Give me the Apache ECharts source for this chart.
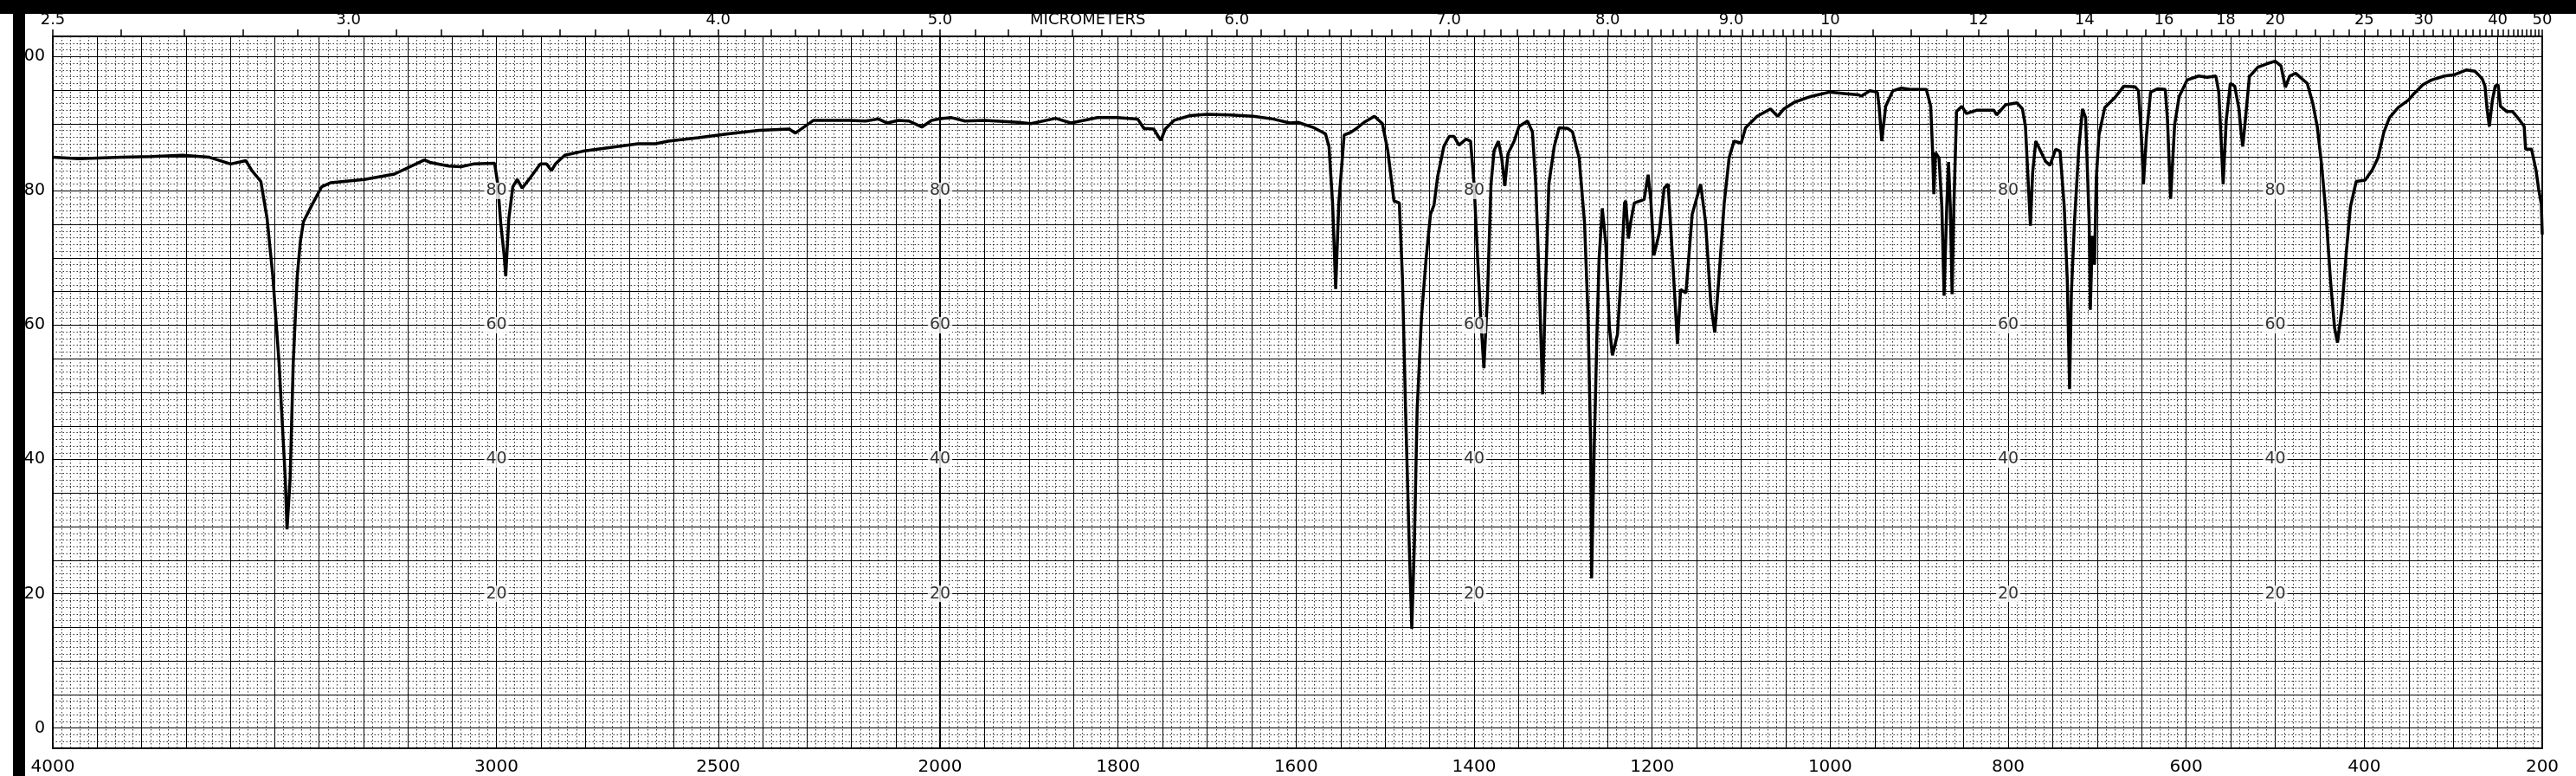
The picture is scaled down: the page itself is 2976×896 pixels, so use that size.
<!DOCTYPE html>
<html><head><meta charset="utf-8">
<script src="https://cdn.jsdelivr.net/npm/echarts@6/dist/echarts.min.js"></script>
<style>html,body{margin:0;padding:0;background:#fff}#c{width:2976px;height:896px}</style>
</head><body><div id="c"></div>
<script>
// ---- data (wavenumber cm-1, % transmittance) ----
const wavenumber = [4000,3941,3845,3777,3708,3647,3599,3565,3551,3531,3517,3504,3490,3476,3472,3465,3458,3449,3442,3435,3415,3394,3374,3298,3230,3162,3148,3107,3080,3052,3004,2997,2990,2983,2979,2972,2963,2953,2942,2922,2901,2887,2876,2867,2846,2805,2750,2681,2641,2613,2545,2477,2408,2340,2326,2285,2203,2168,2139,2119,2094,2070,2041,2019,1987,1972,1950,1912,1898,1870,1853,1823,1801,1778,1771,1760,1752,1747,1737,1719,1700,1674,1648,1626,1607,1598,1580,1567,1563,1559,1555.5,1552,1546,1538.6,1531,1523.6,1512,1503,1497,1490,1484,1480.5,1477,1473,1470,1467,1464,1459,1454,1449,1445,1441,1434,1428,1422.5,1417,1409,1404,1400,1396,1392.5,1389,1385,1381,1377.5,1372.7,1369,1365.5,1362,1355,1349.5,1340,1334.5,1330.7,1327,1323,1319.5,1316,1310,1304.5,1295,1289.5,1282,1276,1272,1269,1268,1265,1262,1259.6,1256,1252,1248,1244.6,1239,1235,1231,1229.6,1226.6,1224,1220,1209,1204.5,1201.5,1198,1192,1186.5,1182,1177,1171.5,1168,1162,1155,1145.5,1140,1134,1129.6,1125,1119,1113.5,1108,1100,1095,1082,1067,1059,1052,1040,1025.5,1020,1001,984.6,968,965,955.4,947,945,942,937.6,929.5,920,910,892,887,885,883.5,881.6,877.7,874.5,872,869,867,865,863,861,858,852,847,835.6,816,813,803,790,784,780.6,778,775,772.5,769,766,758,753,746.6,741.7,737,733.6,731,729,725.5,720.7,716.5,713,709,707.7,705.4,703,701,698,691.5,680,670,657.5,653.6,650.4,648,644.6,640,632,623.5,621,617.5,613,608,599,586,576.6,566.7,563.4,561,558.5,555,550.4,545.5,540.7,538.4,536.4,533,529,519.5,509.8,500,493.5,488.6,483.7,477,464,457.7,452.8,448,443,438,433.3,430,425,420,415.5,409,399,391,384.5,378,371.6,361.8,350.4,344,334,324.4,309.8,298.4,285.4,275.6,267.5,264.3,262,259.4,256,252.8,249.6,247,239.8,233.3,225.2,220.3,218.7,212,207,204,201,200];
const transmittance = [85.0,84.8,85.0,85.1,85.3,85.0,84.0,84.5,83.0,81.4,75.9,67.3,54.4,37.2,29.6,37.2,54.4,67.3,72.4,75.4,78.0,80.6,81.2,81.7,82.5,84.6,84.2,83.7,83.6,84.0,84.1,81.0,75.0,70.7,67.3,75.9,80.6,81.7,80.4,82.1,84.0,84.0,83.0,84.0,85.3,85.9,86.4,87.0,87.0,87.4,87.9,88.5,89.0,89.2,88.6,90.5,90.5,90.4,90.7,90.1,90.5,90.4,89.5,90.5,90.9,90.4,90.5,90.2,90.0,90.8,90.1,90.9,90.9,90.7,89.3,89.2,87.5,89.2,90.5,91.2,91.4,91.3,91.1,90.7,90.1,90.2,89.4,88.5,86.6,78.2,65.4,78.2,88.3,88.7,89.4,90.2,91.1,90.0,86.0,78.5,78.2,67.0,47.4,27.9,14.8,27.9,47.4,61.4,69.8,76.5,77.9,82.1,86.6,88.1,88.1,86.8,87.7,87.4,81.0,69.8,60.9,53.6,64.2,81.0,86.0,87.4,84.9,80.7,85.5,87.4,89.6,90.4,88.8,81.0,67.0,49.7,67.0,81.0,86.6,89.4,89.3,88.8,84.9,75.4,61.4,41.9,22.3,41.9,58.6,69.8,77.4,72.1,59.7,55.5,58.6,67.0,78.2,78.5,72.9,75.4,78.2,78.7,82.4,78.7,70.4,73.7,80.4,81.0,69.8,57.2,65.3,64.8,76.5,81.0,75.4,63.1,58.9,67.0,78.2,84.9,87.4,87.1,89.4,91.1,92.2,91.1,92.2,93.2,93.9,94.1,94.7,94.5,94.3,94.1,94.9,94.7,92.6,87.4,92.6,94.9,95.3,95.1,95.1,92.6,86.2,79.5,85.7,84.9,77.6,64.4,77.6,84.3,77.6,64.6,77.6,91.8,92.6,91.5,92.0,92.0,91.3,92.8,93.1,92.2,89.6,82.7,74.8,82.7,87.4,86.6,84.4,83.8,86.2,85.9,77.6,66.8,50.5,64.6,75.4,86.2,92.2,90.9,75.4,62.3,73.3,69.0,81.8,88.3,92.4,93.9,95.6,95.5,94.9,88.3,81.0,88.3,94.7,95.2,95.1,90.5,78.8,89.8,94.0,96.5,97.1,96.9,97.1,94.7,88.3,81.0,90.5,96.0,95.6,92.2,88.7,86.6,91.3,97.0,98.4,98.9,99.3,98.6,95.4,97.1,97.5,96.0,93.0,89.6,84.0,76.7,66.8,59.6,57.4,62.5,71.1,77.6,81.4,81.6,83.1,84.9,88.7,90.9,92.4,93.5,94.5,95.8,96.5,97.1,97.3,98.0,97.8,96.7,95.6,92.2,89.6,93.5,95.6,95.8,92.6,91.8,91.8,90.5,89.6,86.2,86.2,83.1,80.2,78.0,73.5];

// ---- axis labels ----
const bottomLabelsLeft = [4000, 3000, 2500];
const bottomLabelsRight = [2000, 1800, 1600, 1400, 1200, 1000, 800, 600, 400, 200];
const yLabels = [0, 20, 40, 60, 80, 100];
const micrometerLabels = ['2.5','3.0','4.0','5.0','6.0','7.0','8.0','9.0','10','12','14','16','18','20','25','30','40','50'];
const micrometerTitle = 'MICROMETERS';
const micrometerTitleWn = 1834;
const innerLabelWn = [3000, 2000, 1400, 800, 500];
const innerLabelT = [80, 60, 40, 20];

const FONT = 'DejaVu Sans';
const spectrum = wavenumber.map((w, i) => [w, transmittance[i]]);

// micrometer ticks on top scale
const umTicks = [];
for (let u = 25; u <= 100; u++) umTicks.push(u / 10);
for (let u = 105; u <= 200; u += 5) umTicks.push(u / 10);
for (let u = 21; u <= 50; u++) umTicks.push(u);
const umTickWn = umTicks.map(u => 10000 / u);
const umLabelWn = micrometerLabels.map(s => 10000 / parseFloat(s));

function umFormatter(v) {
  if (Math.abs(v - micrometerTitleWn) < 0.5) return micrometerTitle;
  for (let i = 0; i < micrometerLabels.length; i++) {
    if (Math.abs(umLabelWn[i] - v) < 0.01) return micrometerLabels[i];
  }
  return '';
}

const minorStyle = { color: '#333', width: 1, type: [1.5, 2.5] };
const majorStyle = { color: '#000', width: 1, type: 'solid' };

function yGridLines() {
  const d = [];
  for (let v = -2; v <= 102; v++) {
    const major = v % 5 === 0;
    d.push({ yAxis: v, lineStyle: major ? majorStyle : minorStyle });
  }
  return d;
}

function bottomAxis(gi, min, max, interval, labels) {
  return {
    gridIndex: gi, type: 'value', min: min, max: max, inverse: true, interval: interval,
    position: 'bottom',
    axisLine: { show: false }, axisTick: { show: false },
    axisLabel: { customValues: labels, formatter: v => String(v), fontSize: 20, margin: 12, color: '#000', fontFamily: FONT },
    splitLine: { show: true, lineStyle: majorStyle },
    minorTick: { show: false, splitNumber: 5 },
    minorSplitLine: { show: true, lineStyle: minorStyle }
  };
}
function topAxis(gi, min, max, tickVals, labelVals) {
  return {
    gridIndex: gi, type: 'value', min: min, max: max, inverse: true, position: 'top',
    axisLine: { show: false },
    axisTick: { show: true, customValues: tickVals, length: 8, lineStyle: { color: '#000', width: 1.5 } },
    axisLabel: { customValues: labelVals, formatter: umFormatter, fontSize: 18, margin: 10, color: '#000', fontFamily: FONT },
    splitLine: { show: false }
  };
}

function labelSeries(xi, wns) {
  const data = [];
  wns.forEach(w => innerLabelT.forEach(t => data.push([w, t])));
  return {
    type: 'scatter', xAxisIndex: xi, yAxisIndex: xi, data: data, z: 4,
    symbolSize: 1, itemStyle: { color: 'rgba(0,0,0,0)' }, silent: true,
    label: { show: true, position: 'inside', formatter: p => String(p.value[1]),
             fontSize: 19, color: '#000', fontFamily: FONT, backgroundColor: '#fff', padding: [0, 2] },
    markLine: { silent: true, z: 1, animation: false, symbol: ['none', 'none'],
                label: { show: false }, emphasis: { disabled: true }, data: yGridLines() }
  };
}

const chart = echarts.init(document.getElementById('c'), null, { renderer: 'canvas' });
chart.setOption({
  backgroundColor: '#fff',
  animation: false,
  grid: [
    { left: 61, right: 2976 - 1086, top: 42, bottom: 32, show: true, borderColor: '#000', borderWidth: 2, outerBoundsMode: 'none', containLabel: false },
    { left: 1086, right: 39, top: 42, bottom: 32, show: true, borderColor: '#000', borderWidth: 2, outerBoundsMode: 'none', containLabel: false }
  ],
  xAxis: [
    bottomAxis(0, 2000, 4000, 100, bottomLabelsLeft),
    bottomAxis(1, 200, 2000, 50, bottomLabelsRight),
    topAxis(0, 2000, 4000, umTickWn.filter(w => w > 2000.01), umLabelWn.filter(w => w > 2000.01)),
    topAxis(1, 200, 2000, umTickWn.filter(w => w <= 2000.01), umLabelWn.filter(w => w <= 2000.01).concat([micrometerTitleWn]))
  ],
  yAxis: [
    { gridIndex: 0, type: 'value', min: -3, max: 103, axisLine: { show: false }, axisTick: { show: false },
      splitLine: { show: false },
      axisLabel: { customValues: yLabels, fontSize: 19, margin: 9, color: '#000', fontFamily: FONT } },
    { gridIndex: 1, type: 'value', min: -3, max: 103, axisLine: { show: false }, axisTick: { show: false },
      splitLine: { show: false }, axisLabel: { show: false } }
  ],
  series: [
    { type: 'line', xAxisIndex: 0, yAxisIndex: 0, data: spectrum, showSymbol: false, z: 3, clip: true,
      lineStyle: { color: '#000', width: 3.5 }, silent: true },
    { type: 'line', xAxisIndex: 1, yAxisIndex: 1, data: spectrum, showSymbol: false, z: 3, clip: true,
      lineStyle: { color: '#000', width: 3.5 }, silent: true },
    labelSeries(0, innerLabelWn.filter(w => w > 2000)),
    labelSeries(1, innerLabelWn.filter(w => w <= 2000))
  ],
  graphic: [
    { type: 'rect', left: 0, top: 0, shape: { width: 2976, height: 16 }, style: { fill: '#000' }, z: 100 },
    { type: 'rect', left: 15, top: 0, shape: { width: 14, height: 896 }, style: { fill: '#000' }, z: 100 }
  ]
});
</script>
</body></html>
